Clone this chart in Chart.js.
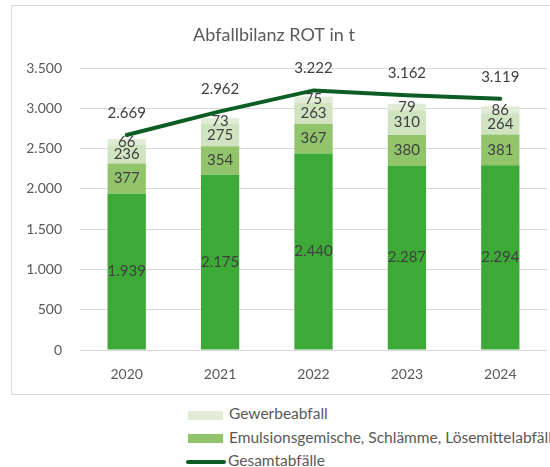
<!DOCTYPE html>
<html>
<head>
<meta charset="utf-8">
<script src="https://cdn.jsdelivr.net/npm/chart.js@4"></script>
<style>
  body { margin: 0; width: 550px; height: 467px; overflow: hidden; background: #fff; font-family: Lato, sans-serif; }
  #wrap { position: relative; width: 550px; height: 400px; }
  #legend { position: absolute; left: 0; top: 400px; width: 550px; height: 67px; }
  .item { position: absolute; left: 186px; height: 20px; white-space: nowrap; color: #595959; font-size: 15.5px; line-height: 20px; }
  .sw { display: inline-block; vertical-align: middle; margin-right: 6px; }
</style>
</head>
<body>
<div id="wrap"><canvas id="grafico" width="550" height="400"></canvas></div>
<div id="legend"></div>
<script>
const jahre = ['2020', '2021', '2022', '2023', '2024'];
const schrott = [1939, 2175, 2440, 2287, 2294];
const emulsion = [377, 354, 367, 380, 381];
const sonstige = [236, 275, 263, 310, 264];
const gewerbe = [66, 73, 75, 79, 86];
const gesamt = [2669, 2962, 3222, 3162, 3119];
const yTicks = [0, 500, 1000, 1500, 2000, 2500, 3000, 3500];

const grau = '#595959';
const schrift = 'Lato, sans-serif';

function fmt(v) {
  return String(v).replace(/\B(?=(\d{3})+(?!\d))/g, '.');
}

const rahmen = {
  id: 'rahmen',
  beforeDraw(chart) {
    const ctx = chart.ctx;
    ctx.save();
    ctx.strokeStyle = '#d9d9d9';
    ctx.lineWidth = 1;
    ctx.strokeRect(11.5, 5.5, 600, 389);
    ctx.fillStyle = grau;
    ctx.font = '18px ' + schrift;
    ctx.textAlign = 'center';
    ctx.textBaseline = 'middle';
    ctx.fillText('Abfallbilanz ROT in t', 274, 35);
    ctx.restore();
  }
};

const werte = {
  id: 'werte',
  afterDatasetsDraw(chart) {
    const ctx = chart.ctx;
    ctx.save();
    ctx.font = '15px ' + schrift;
    ctx.fillStyle = '#404040';
    ctx.textAlign = 'center';
    ctx.textBaseline = 'middle';
    chart.data.datasets.forEach((ds, i) => {
      const meta = chart.getDatasetMeta(i);
      meta.data.forEach((el, j) => {
        if (ds.type === 'line') {
          ctx.fillText(fmt(ds.data[j]), el.x, el.y - 22);
        } else {
          ctx.fillText(fmt(ds.data[j]), el.x, (el.y + el.base) / 2);
        }
      });
    });
    ctx.restore();
  }
};

const balken = { type: 'bar', stack: 's', order: 1, barPercentage: 0.41, categoryPercentage: 1, borderWidth: 0 };

const chart = new Chart(document.getElementById('grafico'), {
  data: {
    labels: jahre,
    datasets: [
      Object.assign({ label: 'Schrott', data: schrott, backgroundColor: '#3da936' }, balken),
      Object.assign({ label: 'Emulsionsgemische, Schlämme, Lösemittelabfälle', data: emulsion, backgroundColor: '#92c46c' }, balken),
      Object.assign({ label: 'Sonstige', data: sonstige, backgroundColor: '#d0e4c1' }, balken),
      Object.assign({ label: 'Gewerbeabfall', data: gewerbe, backgroundColor: '#e1ecd6' }, balken),
      { type: 'line', label: 'Gesamtabfälle', data: gesamt, order: 0, borderColor: '#0b5d23', borderWidth: 4,
        pointRadius: 0, tension: 0, fill: false, borderCapStyle: 'round' }
    ]
  },
  options: {
    responsive: false,
    animation: false,
    layout: { padding: { top: 68, right: 3, left: 0, bottom: 0 } },
    plugins: { legend: { display: false }, tooltip: { enabled: false } },
    scales: {
      x: {
        stacked: true,
        grid: { display: false },
        border: { display: false },
        ticks: { color: grau, font: { family: schrift, size: 14 }, padding: 8 },
        afterFit(s) { s.height = 50; }
      },
      y: {
        stacked: true,
        min: 0,
        max: 3500,
        afterBuildTicks(s) { s.ticks = yTicks.map(v => ({ value: v })); },
        grid: { color: '#d9d9d9', drawTicks: false },
        border: { display: false },
        ticks: { color: grau, font: { family: schrift, size: 14 }, padding: 18, callback: v => fmt(v) },
        afterFit(s) { s.width = 80; }
      }
    }
  },
  plugins: [rahmen, werte]
});

// Legende wie im Original: nur drei Einträge untereinander
const legende = document.getElementById('legend');
const eintraege = [3, 1, 4];
eintraege.forEach((i, k) => {
  const ds = chart.data.datasets[i];
  const div = document.createElement('div');
  div.className = 'item';
  div.style.top = (3 + k * 23.5) + 'px';
  const sw = document.createElement('span');
  sw.className = 'sw';
  if (ds.type === 'line') {
    sw.style.cssText = 'width:40px;height:4px;border-radius:2px;background:' + ds.borderColor + ';margin-right:2px';
  } else {
    sw.style.cssText = 'width:35px;height:9px;margin-left:2px;background:' + ds.backgroundColor;
  }
  div.appendChild(sw);
  div.appendChild(document.createTextNode(ds.label));
  legende.appendChild(div);
});
</script>
</body>
</html>
